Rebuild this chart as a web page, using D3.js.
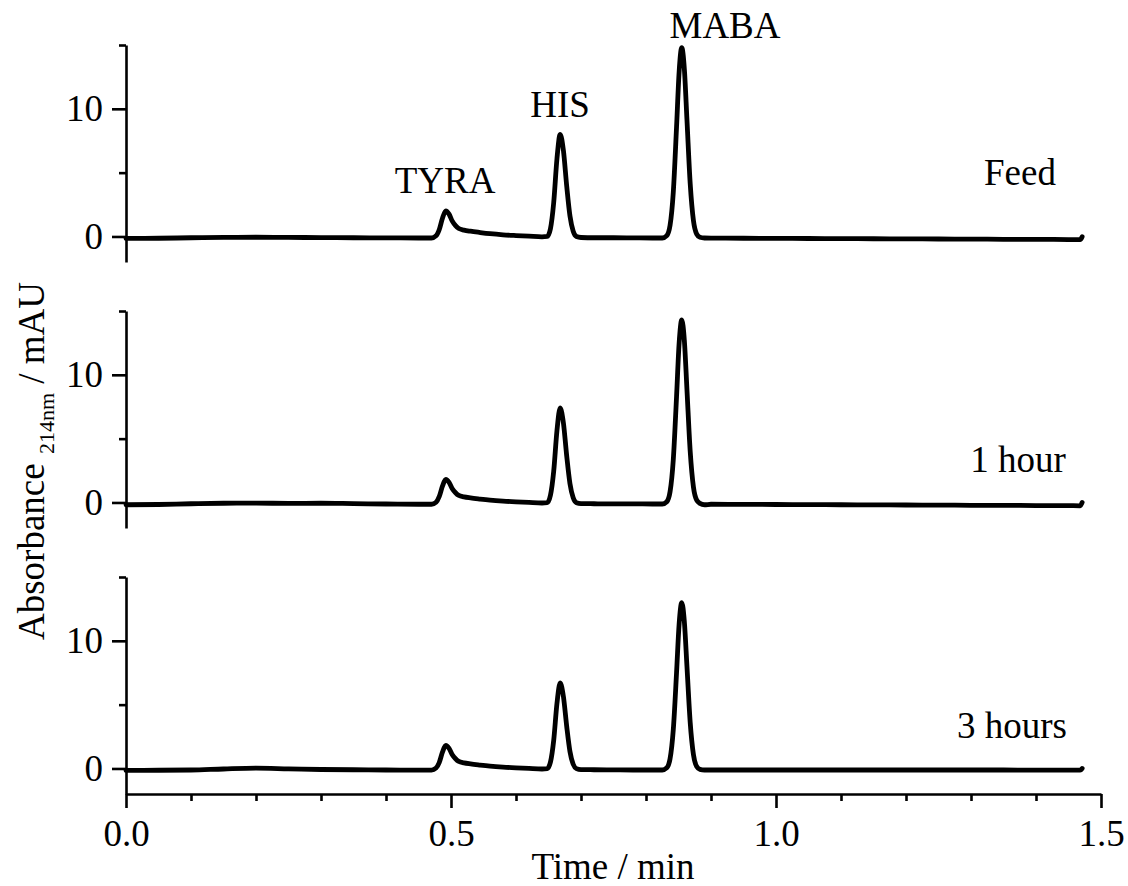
<!DOCTYPE html>
<html><head><meta charset="utf-8">
<script src="https://cdn.jsdelivr.net/npm/d3@7"></script>
<style>
body{margin:0;background:#fff}
svg{display:block}
text{font-family:"Liberation Serif","Times New Roman",serif;fill:#000}
</style>
</head><body><svg id="c" width="1128" height="886"></svg>
<script>
// ---- data ----
const times = [0, 0.05, 0.1, 0.15, 0.2, 0.25, 0.3, 0.35, 0.4, 0.45,
  0.47, 0.477, 0.482, 0.487, 0.492, 0.497, 0.502, 0.507, 0.512,
  0.52, 0.53, 0.545, 0.56, 0.58, 0.6, 0.62, 0.64,
  0.648, 0.653, 0.658, 0.663, 0.668, 0.673, 0.678, 0.683, 0.688, 0.693,
  0.7, 0.72, 0.75, 0.78, 0.81, 0.825,
  0.832, 0.837, 0.842, 0.847, 0.851, 0.855, 0.859, 0.863, 0.868, 0.873, 0.878, 0.883,
  0.89, 0.9, 0.95, 1.0, 1.05, 1.1, 1.15, 1.2, 1.25, 1.3, 1.35, 1.4, 1.45, 1.468, 1.471];

const feed = [-0.15,-0.14,-0.1,-0.07,-0.06,-0.07,-0.09,-0.1,-0.11,-0.12,
  -0.12,0.05,0.55,1.45,2.0,1.75,1.2,0.85,0.62,
  0.5,0.41,0.31,0.22,0.13,0.07,0.02,-0.03,
  0.0,0.61,2.65,6.08,8.0,6.71,3.95,1.61,0.41,0.0,
  -0.08,-0.1,-0.1,-0.11,-0.12,-0.12,
  0.07,0.87,3.48,8.58,12.92,14.8,13.13,9.15,4.14,1.24,0.19,-0.06,
  -0.12,-0.13,-0.14,-0.15,-0.16,-0.17,-0.18,-0.19,-0.2,-0.21,-0.22,-0.23,-0.24,-0.25,-0.02];

const hour1 = [-0.18,-0.16,-0.1,-0.06,-0.05,-0.07,-0.06,-0.09,-0.12,-0.14,
  -0.14,0.02,0.48,1.3,1.8,1.58,1.08,0.76,0.55,
  0.44,0.36,0.27,0.19,0.11,0.05,0.0,-0.04,
  -0.02,0.56,2.44,5.62,7.4,6.21,3.65,1.48,0.37,-0.02,
  -0.09,-0.1,-0.11,-0.11,-0.12,-0.12,
  0.06,0.84,3.36,8.3,12.5,14.3,12.7,8.85,4.0,1.2,0.18,-0.07,
  -0.18,-0.14,-0.15,-0.16,-0.17,-0.18,-0.19,-0.2,-0.21,-0.22,-0.23,-0.24,-0.25,-0.26,0.0];

const hour3 = [-0.15,-0.14,-0.12,-0.04,0.02,-0.03,-0.08,-0.1,-0.12,-0.13,
  -0.13,0.03,0.48,1.3,1.8,1.58,1.08,0.76,0.55,
  0.44,0.36,0.27,0.19,0.11,0.05,0.0,-0.04,
  -0.01,0.5,2.2,5.09,6.7,5.62,3.3,1.33,0.33,-0.01,
  -0.09,-0.1,-0.11,-0.12,-0.12,-0.12,
  0.05,0.76,3.05,7.5,11.35,13.0,11.5,8.0,3.6,1.08,0.15,-0.07,
  -0.12,-0.12,-0.12,-0.12,-0.12,-0.12,-0.12,-0.12,-0.12,-0.12,-0.12,-0.13,-0.13,-0.13,0.0];

const seriesNames = ["Feed", "1 hour", "3 hours"];
const peakNames = ["TYRA", "HIS", "MABA"];
const yMajorTicks = [0, 10];
const yMinorTicks = [5, 15];
const xMajorTicks = [0, 0.5, 1.0, 1.5];
const xMinorTicks = [0.1, 0.2, 0.3, 0.4, 0.6, 0.7, 0.8, 0.9, 1.1, 1.2, 1.3, 1.4];

// ---- layout ----
const svg = d3.select("#c");
const FONT = 37;
const x = d3.scaleLinear().domain([0, 1.5]).range([126, 1101]);
const panelTops = [45, 311, 577];
const panelH = 217;
const series = [feed, hour1, hour3];
const seriesLabelPos = [[1020, 185], [1018, 472], [1012, 738]];
const peakLabelPos = [[445, 193], [560, 117], [725, 38]];

series.forEach((vals, i) => {
  const top = panelTops[i];
  const y = d3.scaleLinear().domain([-2, 15]).range([top + panelH, top]);
  const g = svg.append("g");

  const ax = g.append("g").attr("transform", "translate(126,0)");
  ax.call(d3.axisLeft(y).tickValues(yMajorTicks).tickSize(14).tickSizeOuter(0)
      .tickPadding(9).tickFormat(d3.format("d")));
  const axm = g.append("g").attr("transform", "translate(126,0)");
  axm.call(d3.axisLeft(y).tickValues(yMinorTicks).tickSize(7).tickSizeOuter(0).tickFormat(""));
  axm.select(".domain").remove();
  g.selectAll(".domain, .tick line").attr("stroke", "#000").attr("stroke-width", 2.6);
  g.selectAll(".tick text").attr("font-size", FONT).attr("font-family", "Liberation Serif")
    .attr("fill", "#000");

  const line = d3.line().x((d, k) => x(times[k])).y(d => y(d)).curve(d3.curveMonotoneX);
  g.append("path").datum(vals).attr("d", line).attr("fill", "none")
    .attr("stroke", "#000").attr("stroke-width", 4.8)
    .attr("stroke-linejoin", "round").attr("stroke-linecap", "round");

  g.append("text").attr("x", seriesLabelPos[i][0]).attr("y", seriesLabelPos[i][1])
    .attr("text-anchor", "middle").attr("font-size", FONT).text(seriesNames[i]);

  if (i === panelTops.length - 1) {
    const xa = svg.append("g").attr("transform", `translate(0,${top + panelH})`);
    xa.call(d3.axisBottom(x).tickValues(xMajorTicks).tickSize(14).tickSizeOuter(0)
      .tickPadding(12).tickFormat(d3.format(".1f")));
    const xm = svg.append("g").attr("transform", `translate(0,${top + panelH})`);
    xm.call(d3.axisBottom(x).tickValues(xMinorTicks).tickSize(7).tickSizeOuter(0).tickFormat(""));
    xm.select(".domain").remove();
    svg.selectAll(".domain, .tick line").attr("stroke", "#000").attr("stroke-width", 2.6);
    xa.selectAll(".tick text").attr("font-size", FONT).attr("font-family", "Liberation Serif").attr("fill", "#000");
  }
});

peakNames.forEach((n, i) => {
  svg.append("text").attr("x", peakLabelPos[i][0]).attr("y", peakLabelPos[i][1])
    .attr("text-anchor", "middle").attr("font-size", FONT).text(n);
});

svg.append("text").attr("x", 613).attr("y", 879).attr("text-anchor", "middle")
  .attr("font-size", FONT).text("Time / min");

const yl = svg.append("text").attr("transform", "translate(44,461) rotate(-90)")
  .attr("text-anchor", "middle").attr("font-size", 37);
yl.append("tspan").text("Absorbance ");
yl.append("tspan").attr("font-size", 22).attr("dy", 10).text("214nm");
yl.append("tspan").attr("dy", -10).text(" / mAU");
</script>
</body></html>
